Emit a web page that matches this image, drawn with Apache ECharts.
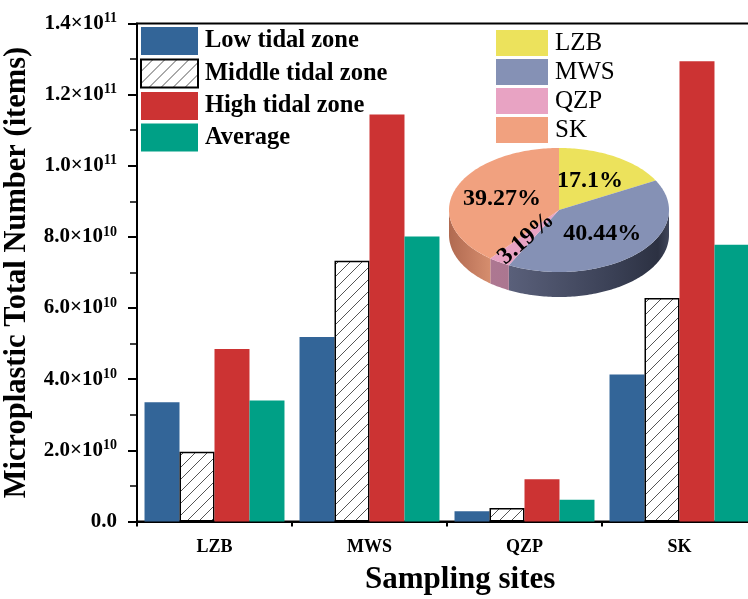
<!DOCTYPE html>
<html><head><meta charset="utf-8">
<script src="https://cdn.jsdelivr.net/npm/echarts@6/dist/echarts.min.js"></script>
<style>html,body{margin:0;padding:0;background:#fff}#c{width:748px;height:599px}</style>
</head><body><div id="c"></div>
<script>
// ---- data ----
const categories = ['LZB', 'MWS', 'QZP', 'SK'];
const lowTidal = [3.35e10, 5.19e10, 0.29e10, 4.13e10];
const middleTidal = [1.96e10, 7.33e10, 0.38e10, 6.28e10];
const highTidal = [4.85e10, 11.44e10, 1.19e10, 12.94e10];
const average = [3.40e10, 8.01e10, 0.61e10, 7.78e10];
const seriesNames = ['Low tidal zone', 'Middle tidal zone', 'High tidal zone', 'Average'];
const pieNames = ['LZB', 'MWS', 'QZP', 'SK'];
const piePercents = [17.1, 40.44, 3.19, 39.27];
const yMax = 1.4e11, yStep = 2e10;

// ---- styles ----
const FONT = 'Liberation Serif';
const barColors = ['#336598', null, '#cc3333', '#00a086'];
const pieTop = ['#ece25c', '#8591b5', '#e8a3c3', '#f1a17f'];
const pieSide = [
  [{offset:0,color:'#b8ad3a'},{offset:1,color:'#b8ad3a'}],
  [{offset:0,color:'#6c7290'},{offset:0.3,color:'#585e78'},{offset:0.75,color:'#3a4055'},{offset:0.95,color:'#2c3142'},{offset:1,color:'#40465a'}],
  [{offset:0,color:'#b07a94'},{offset:1,color:'#a06c86'}],
  [{offset:0,color:'#b06a50'},{offset:0.1,color:'#c47c60'},{offset:0.2,color:'#d89070'},{offset:1,color:'#e0a080'}]
];
const PIE = {cx: 559, cy: 210, rx: 110, ry: 62, h: 25};

// hatch pattern
const pc = document.createElement('canvas');
pc.width = 12; pc.height = 12;
const g = pc.getContext('2d');
g.strokeStyle = '#555'; g.lineWidth = 1;
g.beginPath();
g.moveTo(0, 12); g.lineTo(12, 0);
g.moveTo(-6, 6); g.lineTo(6, -6);
g.moveTo(6, 18); g.lineTo(18, 6);
g.stroke();
const hatch = {image: pc, repeat: 'repeat'};

const chart = echarts.init(document.getElementById('c'));

function ept(t, dy) {
  return [PIE.cx + PIE.rx * Math.sin(t), PIE.cy - PIE.ry * Math.cos(t) + (dy || 0)];
}
const pieTotal = piePercents.reduce((a, b) => a + b, 0);

function renderPie(params, api) {
  const i = params.dataIndex;
  let start = 0;
  for (let k = 0; k < i; k++) start += piePercents[k];
  const a0 = start / pieTotal * 2 * Math.PI;
  const a1 = (start + piePercents[i]) / pieTotal * 2 * Math.PI;
  const children = [];
  const s0 = Math.max(a0, Math.PI / 2), s1 = Math.min(a1, 1.5 * Math.PI);
  if (s1 > s0) {
    const top = [], bot = [];
    const n = Math.max(2, Math.ceil((s1 - s0) / 0.02));
    for (let j = 0; j <= n; j++) {
      const t = s0 + (s1 - s0) * j / n;
      top.push(ept(t, 0)); bot.push(ept(t, PIE.h));
    }
    children.push({
      type: 'polygon',
      shape: {points: top.concat(bot.reverse())},
      style: {fill: new echarts.graphic.LinearGradient(PIE.cx - PIE.rx, 0, PIE.cx + PIE.rx, 0, pieSide[i], true)}
    });
  }
  const pts = [[PIE.cx, PIE.cy]];
  const n2 = Math.max(2, Math.ceil((a1 - a0) / 0.02));
  for (let j = 0; j <= n2; j++) pts.push(ept(a0 + (a1 - a0) * j / n2, 0));
  children.push({type: 'polygon', shape: {points: pts}, style: {fill: pieTop[i]}});
  const mid = (a0 + a1) / 2;
  const lx = PIE.cx + 0.55 * PIE.rx * Math.sin(mid);
  const ly = PIE.cy - 0.55 * PIE.ry * Math.cos(mid);
  let rot = 0;
  if (piePercents[i] < 5) {
    const dx = lx - PIE.cx, dy = ly - PIE.cy;
    rot = Math.atan2(dy, -dx);
  }
  children.push({
    type: 'text', x: lx, y: ly, rotation: rot, z2: 100,
    style: {text: piePercents[i] + '%', textAlign: 'center', textVerticalAlign: 'middle',
      fill: '#000', fontSize: 24, fontWeight: 'bold', fontFamily: FONT}
  });
  return {type: 'group', children: children};
}

function yFmt(v) {
  if (v === 0) return '{a|0.0}';
  const e = Math.floor(Math.log10(v) + 1e-9);
  const m = (v / Math.pow(10, e)).toFixed(1);
  return '{a|' + m + '×10}{s|' + e + '}';
}

const barSeries = [lowTidal, middleTidal, highTidal, average].map((d, i) => ({
  name: seriesNames[i], type: 'bar', data: d, barGap: '0%', barCategoryGap: '9.7%',
  xAxisIndex: 0, yAxisIndex: 0,
  itemStyle: i === 1 ? {color: hatch, borderColor: '#000', borderWidth: 1.5} : {color: barColors[i]}
}));

// pie legend (swatches + names)
const pieLegend = [];
pieNames.forEach((nm, i) => {
  pieLegend.push({type: 'rect', left: 496, top: 30 + i * 29, z: 20,
    shape: {width: 52, height: 26}, style: {fill: pieTop[i]}});
  pieLegend.push({type: 'text', left: 555, top: 30 + i * 29 + 1, z: 20,
    style: {text: nm, fontFamily: FONT, fontWeight: 'normal', fontSize: 25, fill: '#000'}});
});

chart.setOption({
  animation: false,
  backgroundColor: '#fff',
  grid: {left: 137, top: 23.5, width: 620, height: 498, show: true, borderColor: '#000', borderWidth: 2,
    backgroundColor: 'transparent', containLabel: false, outerBoundsMode: 'none'},
  legend: [{
    data: seriesNames, orient: 'vertical', left: 140, top: 27, padding: 0,
    itemWidth: 57, itemHeight: 28, itemGap: 3.5, icon: 'rect',
    textStyle: {fontFamily: FONT, fontWeight: 'bold', fontSize: 24.5, color: '#000', padding: [0, 0, 0, 2]}
  }],
  xAxis: [{
    type: 'category', data: categories, position: 'bottom',
    axisLine: {lineStyle: {color: '#000', width: 2}},
    axisTick: {alignWithLabel: true, length: 8, lineStyle: {color: '#000', width: 2}},
    axisLabel: {margin: 17, color: '#000', fontFamily: FONT, fontWeight: 'bold', fontSize: 18}
  }, {
    type: 'category', data: categories, position: 'bottom',
    axisLine: {show: false},
    axisTick: {show: true, length: 5, lineStyle: {color: '#000', width: 2}},
    axisLabel: {show: false}
  }],
  yAxis: {
    type: 'value', min: 0, max: yMax, interval: yStep,
    axisLine: {show: true, lineStyle: {color: '#000', width: 2}},
    axisTick: {show: true, length: 9, lineStyle: {color: '#000', width: 2}},
    minorTick: {show: true, splitNumber: 2, length: 7, lineStyle: {color: '#000', width: 1.5}},
    splitLine: {show: false},
    axisLabel: {
      margin: 20, formatter: yFmt,
      rich: {
        a: {fontFamily: FONT, fontWeight: 'bold', fontSize: 21, color: '#000', lineHeight: 24},
        s: {fontFamily: FONT, fontWeight: 'bold', fontSize: 14, color: '#000', verticalAlign: 'top', lineHeight: 24}
      }
    },
    name: 'Microplastic Total Number (items)', nameLocation: 'middle', nameGap: 97,
    nameTextStyle: {fontFamily: FONT, fontWeight: 'bold', fontSize: 30.5, color: '#000'}
  },
  graphic: [{
    type: 'text', left: 365, top: 564,
    style: {text: 'Sampling sites', fontFamily: FONT, fontWeight: 'bold', fontSize: 31, fill: '#000'}
  }].concat(pieLegend),
  series: barSeries.concat([{
    type: 'custom', coordinateSystem: 'none', renderItem: renderPie, z: 10, silent: true,
    data: piePercents.map((v, i) => ({name: pieNames[i], value: v}))
  }])
});
</script>
</body></html>
